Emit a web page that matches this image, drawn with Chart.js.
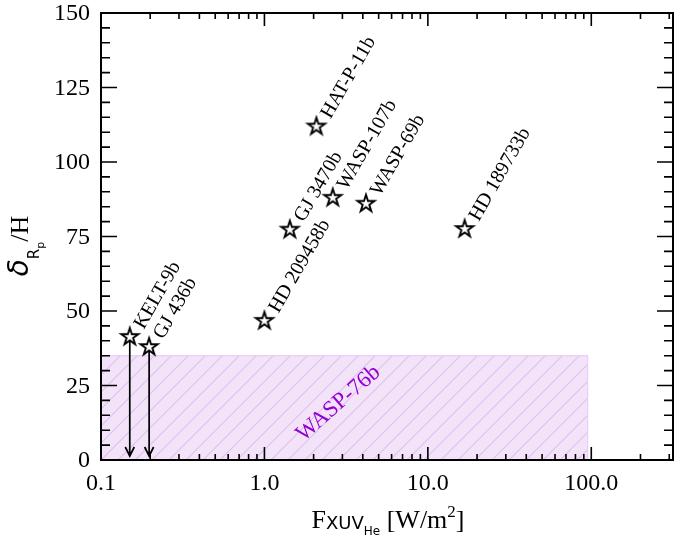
<!DOCTYPE html>
<html lang="en">
<head>
    <meta charset="UTF-8">
    <title>Delta Rp/H vs F XUV He</title>
    <script src="https://cdn.jsdelivr.net/npm/chart.js"></script>
    <style>
        body {
            margin: 0;
            padding: 0;
            background-color: #ffffff;
        }
        .chart-container {
            position: relative;
            width: 674px;
            height: 539px;
        }
    </style>
</head>
<body>
    <div class="chart-container">
        <canvas id="deltaChart"></canvas>
    </div>
    <script>
        // data
        const planetNames = ['KELT-9b', 'GJ 436b', 'HD 209458b', 'GJ 3470b', 'HAT-P-11b', 'WASP-107b', 'WASP-69b', 'HD 189733b'];
        const fluxValues = [0.15, 0.197, 1.0, 1.43, 2.08, 2.62, 4.18, 16.8];
        const deltaValues = [41.3, 37.9, 46.7, 77.3, 111.9, 88, 86, 77.5];
        const upperLimits = [true, true, false, false, false, false, false, false];

        // WASP-76b shaded range
        const wasp76Flux = [0.1, 95];
        const wasp76Delta = [0, 35];
        const wasp76Name = 'WASP-76b';
        const wasp76LabelAt = [2.84, 19];

        const xTickValues = [0.1, 1, 10, 100];
        const xTickLabels = ['0.1', '1.0', '10.0', '100.0'];
        const yTickValues = [0, 25, 50, 75, 100, 125, 150];

        const SERIF = '"Liberation Serif", "Times New Roman", serif';
        const SANS = '"DejaVu Sans", sans-serif';
        const PURPLE = '#9400d3';

        // open star marker (like matplotlib '*' with white face)
        function makeStar(r, lw) {
            const size = Math.ceil(2 * r + 2 * lw + 2);
            const c = document.createElement('canvas');
            c.width = size;
            c.height = size;
            const g = c.getContext('2d');
            const cx = size / 2, cy = size / 2;
            g.beginPath();
            for (let i = 0; i < 10; i++) {
                const a = -Math.PI / 2 + i * Math.PI / 5;
                const rr = i % 2 === 0 ? r : r * 0.382;
                const px = cx + rr * Math.cos(a), py = cy + rr * Math.sin(a);
                if (i === 0) g.moveTo(px, py); else g.lineTo(px, py);
            }
            g.closePath();
            g.fillStyle = '#ffffff';
            g.fill();
            g.lineWidth = lw;
            g.lineJoin = 'miter';
            g.strokeStyle = '#000000';
            g.stroke();
            return c;
        }
        const starMarker = makeStar(9, 1.9);

        function hatchPattern(ctx) {
            const s = 17;
            const c = document.createElement('canvas');
            c.width = s;
            c.height = s;
            const g = c.getContext('2d');
            g.fillStyle = '#f3e3f9';
            g.fillRect(0, 0, s, s);
            g.strokeStyle = '#e0c0f0';
            g.lineWidth = 1.2;
            g.beginPath();
            g.moveTo(-1, s + 1); g.lineTo(s + 1, -1);
            g.moveTo(-1, 1); g.lineTo(1, -1);
            g.moveTo(s - 1, s + 1); g.lineTo(s + 1, s - 1);
            g.stroke();
            return ctx.createPattern(c, 'repeat');
        }

        function drawRuns(ctx, runs) {
            let w = 0;
            runs.forEach(r => { ctx.font = r.f; r.w = ctx.measureText(r.t).width; w += r.w; });
            let x = -w / 2;
            runs.forEach(r => {
                ctx.font = r.f;
                ctx.fillText(r.t, x, r.dy);
                x += r.w;
            });
        }

        const decorPlugin = {
            id: 'decor',
            beforeDatasetsDraw(chart) {
                const ctx = chart.ctx;
                const xs = chart.scales.x, ys = chart.scales.y;
                // WASP-76b band
                const x0 = xs.getPixelForValue(wasp76Flux[0]);
                const x1 = xs.getPixelForValue(wasp76Flux[1]);
                const y0 = ys.getPixelForValue(wasp76Delta[0]);
                const y1 = ys.getPixelForValue(wasp76Delta[1]);
                ctx.save();
                ctx.fillStyle = hatchPattern(ctx);
                ctx.fillRect(x0, y1, x1 - x0, y0 - y1);
                ctx.strokeStyle = '#e8cdf5';
                ctx.lineWidth = 1.2;
                ctx.strokeRect(x0, y1, x1 - x0, y0 - y1);
                ctx.restore();

                // WASP-76b label
                ctx.save();
                ctx.translate(xs.getPixelForValue(wasp76LabelAt[0]), ys.getPixelForValue(wasp76LabelAt[1]));
                ctx.rotate(-41 * Math.PI / 180);
                ctx.fillStyle = PURPLE;
                ctx.font = '23px ' + SERIF;
                ctx.textAlign = 'center';
                ctx.textBaseline = 'middle';
                ctx.fillText(wasp76Name, 0, 0);
                ctx.restore();

                // upper-limit arrows
                ctx.save();
                ctx.strokeStyle = '#000000';
                ctx.lineWidth = 1.7;
                fluxValues.forEach((f, i) => {
                    if (!upperLimits[i]) return;
                    const px = xs.getPixelForValue(f);
                    const top = ys.getPixelForValue(deltaValues[i]);
                    const tip = ys.getPixelForValue(0) - 4;
                    ctx.beginPath();
                    ctx.moveTo(px, top);
                    ctx.lineTo(px, tip);
                    ctx.moveTo(px - 4.5, tip - 9);
                    ctx.lineTo(px, tip);
                    ctx.lineTo(px + 4.5, tip - 9);
                    ctx.stroke();
                });
                ctx.restore();
            },
            afterDatasetsDraw(chart) {
                const ctx = chart.ctx;
                const meta = chart.getDatasetMeta(0);
                ctx.save();
                ctx.fillStyle = '#000000';
                ctx.font = '20px ' + SERIF;
                ctx.textBaseline = 'alphabetic';
                meta.data.forEach((pt, i) => {
                    ctx.save();
                    ctx.translate(pt.x + 14, pt.y - 7);
                    ctx.rotate(-60 * Math.PI / 180);
                    ctx.fillText(planetNames[i], 0, 0);
                    ctx.restore();
                });
                ctx.restore();
            },
            afterDraw(chart) {
                const ctx = chart.ctx;
                const a = chart.chartArea;
                const xs = chart.scales.x, ys = chart.scales.y;
                ctx.save();
                ctx.strokeStyle = '#000000';
                // ticks
                ctx.lineWidth = 1.6;
                ctx.beginPath();
                for (let d = -1; d <= 2; d++) {
                    for (let m = 1; m <= 9; m++) {
                        const v = m * Math.pow(10, d);
                        if (v < xs.min || v > xs.max) continue;
                        const px = xs.getPixelForValue(v);
                        const len = m === 1 ? 13 : 6;
                        ctx.moveTo(px, a.bottom); ctx.lineTo(px, a.bottom - len);
                        ctx.moveTo(px, a.top); ctx.lineTo(px, a.top + len);
                    }
                }
                for (let v = 0; v <= 150; v += 5) {
                    const py = ys.getPixelForValue(v);
                    const len = v % 25 === 0 ? 16 : 9;
                    ctx.moveTo(a.left, py); ctx.lineTo(a.left + len, py);
                    ctx.moveTo(a.right, py); ctx.lineTo(a.right - len, py);
                }
                ctx.stroke();
                // spines
                ctx.lineWidth = 2;
                ctx.strokeRect(a.left, a.top, a.right - a.left, a.bottom - a.top);

                // tick labels
                ctx.fillStyle = '#000000';
                ctx.font = '24px ' + SERIF;
                ctx.textBaseline = 'middle';
                ctx.textAlign = 'center';
                xTickValues.forEach((v, i) => {
                    ctx.fillText(xTickLabels[i], xs.getPixelForValue(v), a.bottom + 24);
                });
                ctx.textAlign = 'right';
                yTickValues.forEach(v => {
                    ctx.fillText(String(v), a.left - 11, ys.getPixelForValue(v) + 1);
                });

                // axis titles
                ctx.textAlign = 'left';
                ctx.textBaseline = 'alphabetic';
                ctx.save();
                ctx.translate((a.left + a.right) / 2 + 1, 528);
                drawRuns(ctx, [
                    { t: 'F', f: '26px ' + SERIF, dy: 0 },
                    { t: 'XUV', f: '18px ' + SANS, dy: 1 },
                    { t: 'He', f: '12px ' + SANS, dy: 7 },
                    { t: ' [W/m', f: '26px ' + SERIF, dy: 0 },
                    { t: '2', f: '17px ' + SERIF, dy: -11 },
                    { t: ']', f: '26px ' + SERIF, dy: 0 }
                ]);
                ctx.restore();

                ctx.save();
                ctx.translate(28, 246);
                ctx.rotate(-Math.PI / 2);
                drawRuns(ctx, [
                    { t: 'δ', f: 'italic 28px ' + SANS, dy: 0 },
                    { t: 'R', f: '15px ' + SANS, dy: 11 },
                    { t: 'p', f: '11px ' + SANS, dy: 16 },
                    { t: '/H', f: '26px ' + SERIF, dy: 0 }
                ]);
                ctx.restore();
                ctx.restore();
            }
        };

        const ctx = document.getElementById('deltaChart').getContext('2d');
        new Chart(ctx, {
            type: 'scatter',
            data: {
                datasets: [{
                    label: 'planets',
                    data: fluxValues.map((f, i) => ({ x: f, y: deltaValues[i] })),
                    pointStyle: starMarker,
                    pointRadius: 9,
                    pointHoverRadius: 9,
                    clip: false
                }]
            },
            options: {
                responsive: true,
                maintainAspectRatio: false,
                animation: false,
                events: [],
                layout: {
                    autoPadding: false,
                    padding: { left: 0, right: 1, top: 13, bottom: 0 }
                },
                plugins: {
                    legend: { display: false },
                    tooltip: { enabled: false }
                },
                scales: {
                    x: {
                        type: 'logarithmic',
                        min: 0.1,
                        max: Math.pow(10, 2.5),
                        grid: { display: false, drawTicks: false },
                        border: { display: false },
                        afterFit: scale => { scale.height = 79; },
                        ticks: { display: false }
                    },
                    y: {
                        min: 0,
                        max: 150,
                        grid: { display: false, drawTicks: false },
                        border: { display: false },
                        afterFit: scale => { scale.width = 101; },
                        ticks: { display: false, stepSize: 25 }
                    }
                }
            },
            plugins: [decorPlugin]
        });
    </script>
</body>
</html>
